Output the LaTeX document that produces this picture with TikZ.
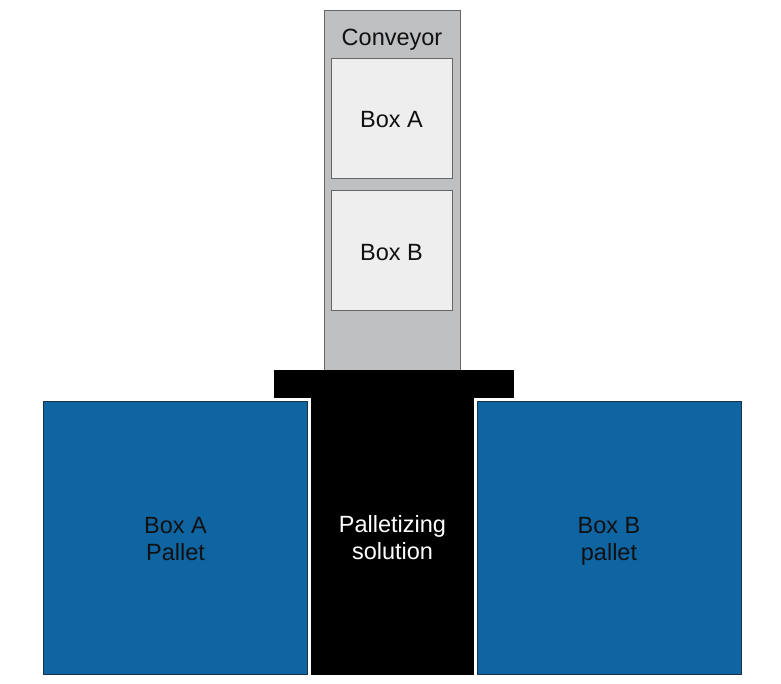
\documentclass[tikz,border=0pt]{standalone}
\usepackage{fontspec}
\setmainfont{Liberation Sans}
\definecolor{convgray}{HTML}{BFC0C2}
\definecolor{boxgray}{HTML}{EEEEEE}
\definecolor{edgegray}{HTML}{666666}
\definecolor{palletblue}{HTML}{0F64A2}
\definecolor{palletedge}{HTML}{1A3347}
\definecolor{txt}{HTML}{111111}
\begin{document}
\begin{tikzpicture}[x=1pt,y=-1pt,
  lbl/.style={font=\fontsize{23.5}{27}\selectfont,align=center,text=txt,inner sep=0pt},
  conv/.style={fill=convgray,draw=edgegray,line width=1pt},
  cbox/.style={fill=boxgray,draw=edgegray,line width=1pt},
  pallet/.style={fill=palletblue,draw=palletedge,line width=1pt}]
\useasboundingbox (0,0) rectangle (781,683);
\fill[white] (0,0) rectangle (781,683);
% conveyor
\draw[conv] (324,10) rectangle (460,370);
\node[lbl,anchor=base] (conveyor) at (392,45.5) {Conveyor};
\draw[cbox] (331,58) rectangle (452,178);
\node[lbl,anchor=base] (boxa) at (391.5,127.5) {Box A};
\draw[cbox] (331,190) rectangle (452,310);
\node[lbl,anchor=base] (boxb) at (391.5,260.5) {Box B};
% black bar and column
\fill[black] (274,370) rectangle (514,398);
\fill[black] (311,398) rectangle (474,675);
\node[lbl,text=white] (pal) at (392.5,540.5) {Palletizing\strut\\solution\strut};
% pallets
\draw[pallet] (43,401) rectangle (307,674);
\node[lbl] (pa) at (175.5,541.3) {Box A\strut\\Pallet\strut};
\draw[pallet] (477,401) rectangle (741,674);
\node[lbl] (pb) at (609,541.3) {Box B\strut\\pallet\strut};
\end{tikzpicture}
\end{document}
